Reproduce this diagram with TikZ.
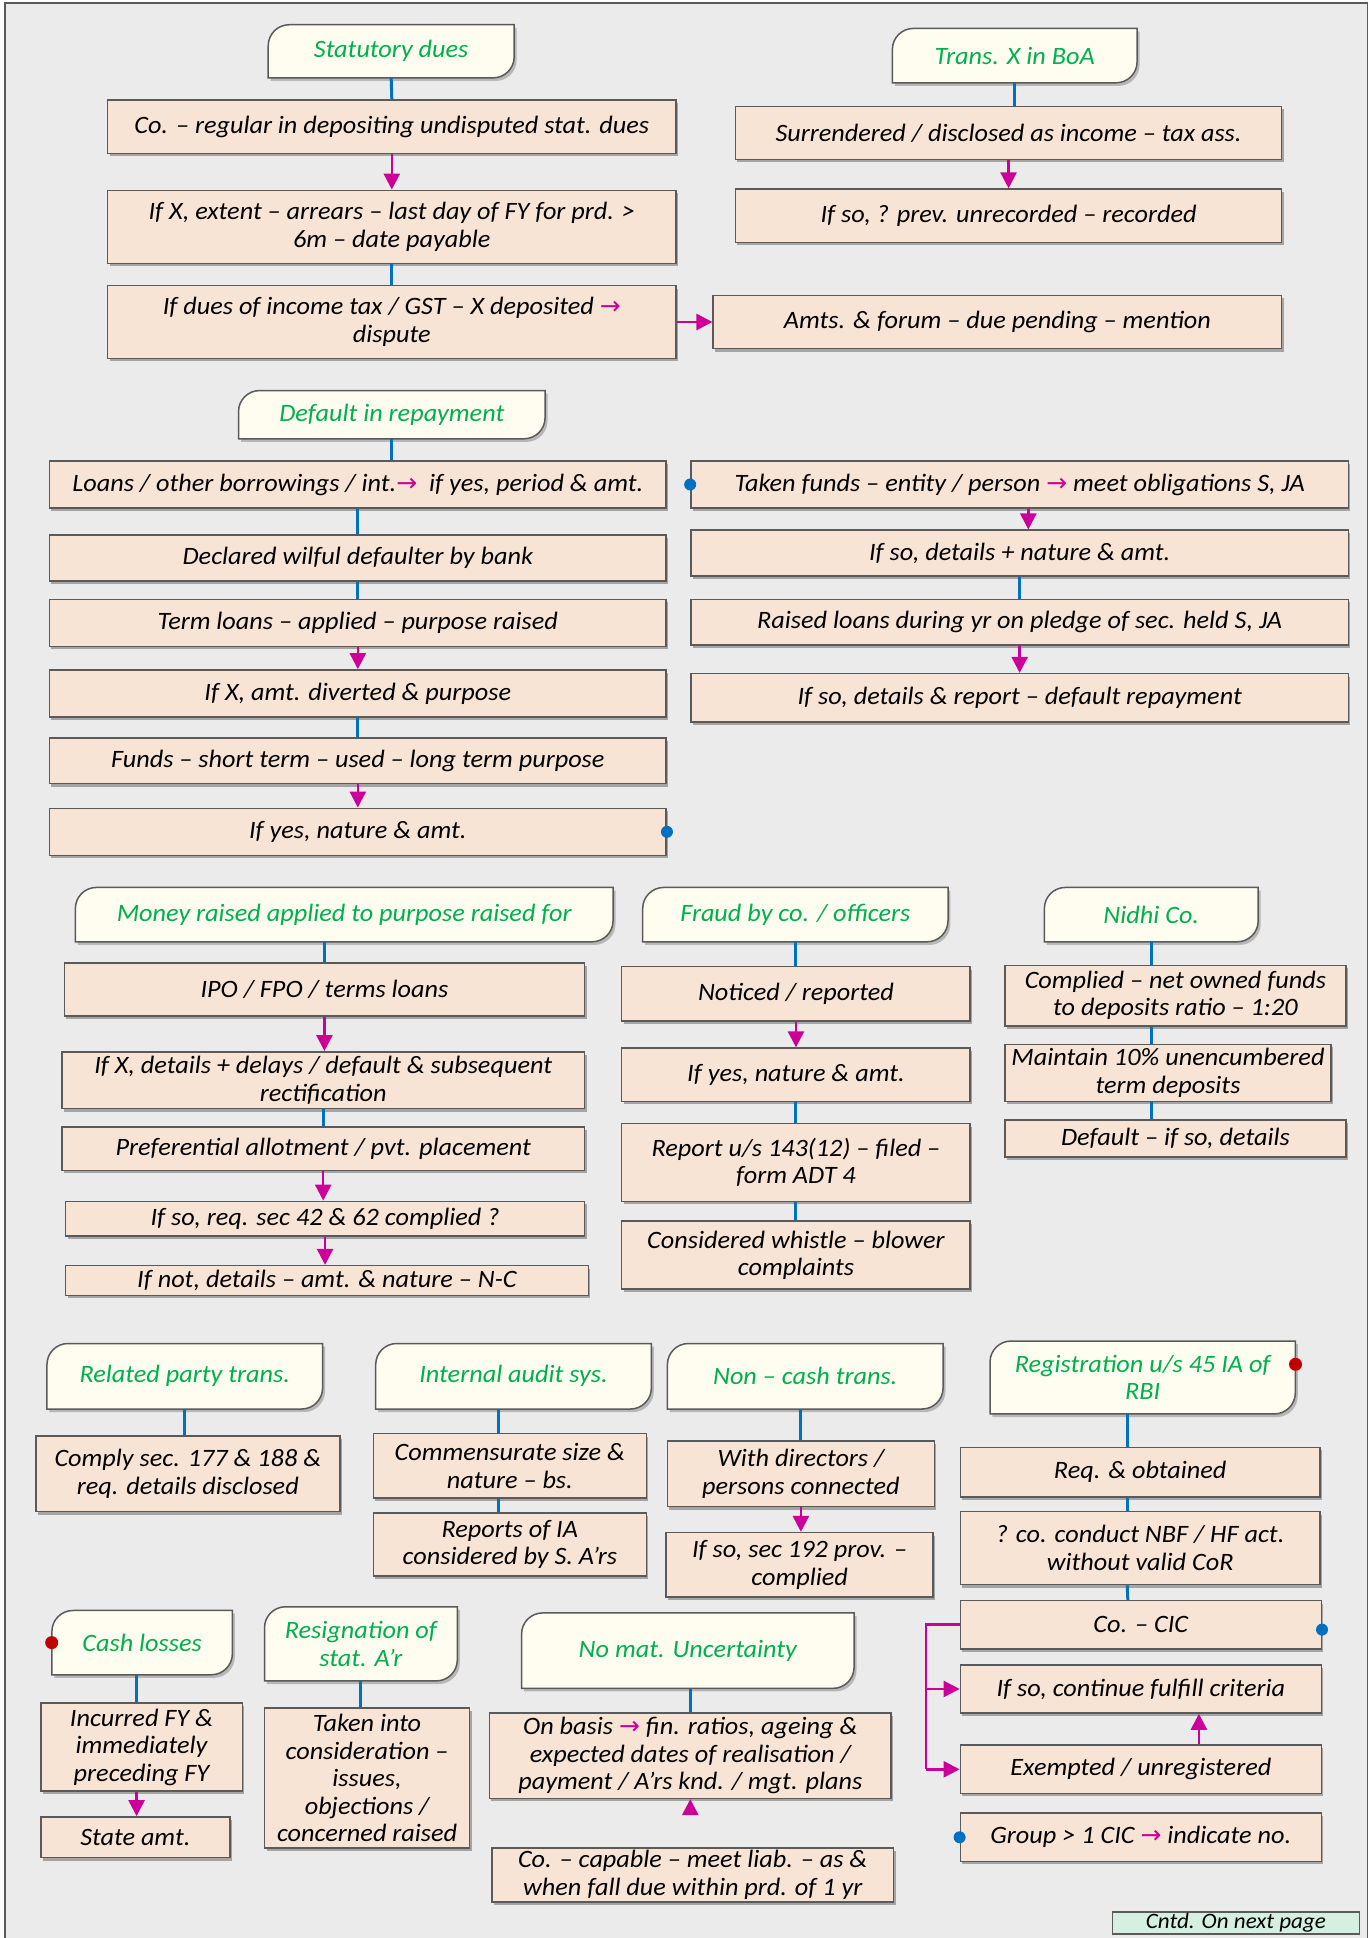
\documentclass[tikz,border=0pt]{standalone}
\usepackage{fontspec}
\setmainfont{Carlito}[FakeStretch=1.05]
\newfontfamily\arrowfont{DejaVu Sans}
\usetikzlibrary{arrows.meta,shadows,calc}
\definecolor{bgc}{HTML}{EBEBEB}
\definecolor{peach}{HTML}{F8E4D5}
\definecolor{cream}{HTML}{FFFDF0}
\definecolor{hgreen}{HTML}{00B050}
\definecolor{cblue}{HTML}{0070C0}
\definecolor{mag}{HTML}{CC0099}
\definecolor{edge}{HTML}{5A5A5A}
\definecolor{mint}{HTML}{D5F0E3}
\definecolor{rdot}{HTML}{C00000}
\newcommand\ar{{\arrowfont\upshape\color{mag}→}}
\tikzset{
 txtfont/.style={font=\itshape\fontsize{25}{27.5}\selectfont},
 boxs/.style={txtfont, draw=edge, line width=1.5pt, fill=peach, align=center, inner xsep=3pt, inner ysep=0pt,
   drop shadow={shadow xshift=2pt, shadow yshift=-3pt, opacity=.3, fill=black}},
 hdrtxt/.style={txtfont, align=center, text=hgreen, inner sep=0pt},
 hdrfill/.style={fill=cream, draw=edge, line width=1.5pt},
 hshadow/.style={fill=black, opacity=.22},
 bline/.style={draw=cblue, line width=3pt},
 mline/.style={draw=mag, line width=2.5pt},
 marrow/.style={draw=mag, line width=2.5pt, -{Triangle[length=16pt,width=16pt]}},
 bdot/.style={circle, fill=cblue, inner sep=0pt, minimum size=12pt},
 rdotst/.style={circle, fill=rdot, inner sep=0pt, minimum size=13pt},
 cntd/.style={draw=edge, line width=1.5pt, fill=mint, inner sep=0pt, font=\itshape\fontsize{22}{24}\selectfont}
}
\newcommand\bx[6]{%
 \pgfmathsetmacro\bw{(#4-#2)*1.2363}%
 \pgfmathsetmacro\bh{(#5-#3)*1.2363}%
 \node[boxs, minimum width=\bw pt, minimum height=\bh pt] (#1) at ({(#2+#4)/2},{(#3+#5)/2}) {#6};}
\newcommand\hdr[6]{%
 \fill[hshadow] (#2+2,#5+2.5) -- (#2+2,#3+2.5+17) arc[start angle=180,end angle=270,radius=17] -- (#4+2,#3+2.5) -- (#4+2,#5+2.5-17) arc[start angle=0,end angle=90,radius=17] -- cycle;
 \path[hdrfill] (#2,#5) -- (#2,#3+17) arc[start angle=180,end angle=270,radius=17] -- (#4,#3) -- (#4,#5-17) arc[start angle=0,end angle=90,radius=17] -- cycle;
 \pgfmathsetmacro\bw{(#4-#2)*1.2363}%
 \pgfmathsetmacro\bh{(#5-#3)*1.2363}%
 \node[hdrtxt, minimum width=\bw pt, minimum height=\bh pt] (#1) at ({(#2+#4)/2},{(#3+#5)/2}) {#6};}
\begin{document}
\begin{tikzpicture}[x=1.2363pt,y=-1.2363pt]
\useasboundingbox (0,0) rectangle (1109,1568);
\fill[white] (0,0) rectangle (1109,1568);
\draw[fill=bgc, draw=edge, line width=1.2pt] (4,2.5) rectangle (1106.5,1575);

% Statutory dues
\hdr{h1}{217}{20}{416}{63}{Statutory dues}
\bx{s1}{87}{81}{547}{124}{Co. – regular in depositing undisputed stat. dues}
\bx{s2}{87}{154}{547}{213}{If X, extent – arrears – last day of FY for prd. >\\6m – date payable}
\bx{s3}{87}{231}{547}{290}{If dues of income tax / GST – X deposited \ar\\dispute}
\bx{s4}{577}{239}{1037}{282}{Amts. \& forum – due pending – mention}

% Trans. X in BoA
\hdr{h2}{722}{23}{920}{67}{Trans. X in BoA}
\bx{t1}{595}{86}{1037}{129}{Surrendered / disclosed as income – tax ass.}
\bx{t2}{595}{153}{1037}{196}{If so, ? prev. unrecorded – recorded}

% Default in repayment
\hdr{h3}{193}{316}{441}{355}{Default in repayment}
\bx{d1}{40}{373}{539}{411}{Loans / other borrowings / int.\ar\ \ if yes, period \& amt.}
\bx{d2}{40}{433}{539}{470}{Declared wilful defaulter by bank}
\bx{d3}{40}{485}{539}{523}{Term loans – applied – purpose raised}
\bx{d4}{40}{542}{539}{580}{If X, amt. diverted \& purpose}
\bx{d5}{40}{597}{539}{634}{Funds – short term – used – long term purpose}
\bx{d6}{40}{654}{539}{692}{If yes, nature \& amt.}
\bx{r1}{559}{373}{1091}{411}{Taken funds – entity / person \ar\ meet obligations S, JA}
\bx{r2}{559}{429}{1091}{466}{If so, details + nature \& amt.}
\bx{r3}{559}{485}{1091}{522}{Raised loans during yr on pledge of sec. held S, JA}
\bx{r4}{559}{545}{1091}{584}{If so, details \& report – default repayment}

% Money raised
\hdr{h4}{61}{718}{496}{762}{Money raised applied to purpose raised for}
\bx{m1}{52}{779}{473}{822}{IPO / FPO / terms loans}
\bx{m2}{50}{851}{473}{897}{If X, details + delays / default \& subsequent\\rectification}
\bx{m3}{50}{912}{473}{947}{Preferential allotment / pvt. placement}
\bx{m4}{53}{972}{473}{1000}{If so, req. sec 42 \& 62 complied ?}
\bx{m5}{53}{1024}{476}{1048}{If not, details – amt. \& nature – N-C}

% Fraud
\hdr{h5}{520}{718}{767}{762}{Fraud by co. / officers}
\bx{f1}{503}{782}{785}{826}{Noticed / reported}
\bx{f2}{503}{848}{785}{891}{If yes, nature \& amt.}
\bx{f3}{503}{909}{785}{972}{Report u/s 143(12) – filed –\\form ADT 4}
\bx{f4}{503}{988}{785}{1043}{Considered whistle – blower\\complaints}

% Nidhi
\hdr{h6}{845}{718}{1018}{762}{Nidhi Co.}
\bx{n1}{813}{781}{1089}{830}{Complied – net owned funds\\to deposits ratio – 1:20}
\bx{n2}{813}{845}{1077}{891}{Maintain 10\% unencumbered\\term deposits}
\bx{n3}{813}{906}{1089}{936}{Default – if so, details}

% Related party
\hdr{h7}{38}{1087}{261}{1140}{Related party trans.}
\bx{p1}{29}{1162}{275}{1223}{Comply sec. 177 \& 188 \&\\req. details disclosed}

% Internal audit
\hdr{h8}{304}{1087}{527}{1140}{Internal audit sys.}
\bx{i1}{302}{1160}{523}{1212}{Commensurate size \&\\nature – bs.}
\bx{i2}{302}{1224}{523}{1275}{Reports of IA\\considered by S. A’rs}

% Non-cash
\hdr{h9}{540}{1087}{763}{1140}{Non – cash trans.}
\bx{c1}{540}{1166}{756}{1219}{With directors /\\persons connected}
\bx{c2}{539}{1240}{755}{1292}{If so, sec 192 prov. –\\complied}

% Registration
\hdr{h10}{801}{1085}{1048}{1144}{Registration u/s 45 IA of\\RBI}
\bx{g1}{777}{1171}{1068}{1211}{Req. \& obtained}
\bx{g2}{777}{1223}{1068}{1282}{? co. conduct NBF / HF act.\\without valid CoR}
\bx{g3}{777}{1295}{1069}{1334}{Co. – CIC}
\bx{g4}{777}{1347}{1069}{1386}{If so, continue fulfill criteria}
\bx{g5}{777}{1412}{1069}{1451}{Exempted / unregistered}
\bx{g6}{777}{1467}{1069}{1506}{Group > 1 CIC \ar\ indicate no.}

% Cash losses
\hdr{h11}{42}{1303}{188}{1355}{Cash losses}
\bx{k1}{33}{1378}{196}{1449}{Incurred FY \&\\immediately\\preceding FY}
\bx{k2}{33}{1470}{186}{1503}{State amt.}

% Resignation
\hdr{h12}{214}{1300}{370}{1360}{Resignation of\\stat. A’r}
\bx{q1}{214}{1382}{380}{1495}{Taken into\\consideration –\\issues,\\objections /\\concerned raised}

% No mat. uncertainty
\hdr{h13}{422}{1305}{691}{1366}{No mat. Uncertainty}
\bx{u1}{396}{1386}{721}{1455}{On basis \ar\ fin. ratios, ageing \&\\expected dates of realisation /\\payment / A’rs knd. / mgt. plans}
\bx{u2}{398}{1495}{723}{1539}{Co. – capable – meet liab. – as \&\\when fall due within prd. of 1 yr}

% Cntd
\node[cntd, minimum width=247pt, minimum height=22pt] (cn) at (1000,1556) {Cntd. On next page};

% connectors
\draw[bline] (h1.south) -- (s1.north);
\draw[marrow] (s1.south) -- (s2.north);
\draw[bline] (s2.south) -- (s3.north);
\draw[marrow] (s3.east) -- (s4.west);

\draw[bline] (h2.south) -- (h2.south |- t1.north);
\draw[marrow] (t1.south) -- (t2.north);

\draw[bline] (h3.south) -- (h3.south |- d1.north);
\draw[bline] (d1.south) -- (d2.north);
\draw[bline] (d2.south) -- (d3.north);
\draw[marrow] (d3.south) -- (d4.north);
\draw[bline] (d4.south) -- (d5.north);
\draw[marrow] (d5.south) -- (d6.north);
\draw[marrow] ($(r1.south)+(7,0)$) -- ($(r2.north)+(7,0)$);
\draw[bline] (r2.south) -- (r3.north);
\draw[marrow] (r3.south) -- (r4.north);

\draw[bline] (m1.north |- h4.south) -- (m1.north);
\draw[marrow] (m1.south) -- (m1.south |- m2.north);
\draw[bline] (m2.south) -- (m2.south |- m3.north);
\draw[marrow] (m3.south) -- (m3.south |- m4.north);
\draw[marrow] (m4.south) -- (m4.south |- m5.north);

\draw[bline] (h5.south) -- (h5.south |- f1.north);
\draw[marrow] (f1.south) -- (f2.north);
\draw[bline] (f2.south) -- (f3.north);
\draw[bline] (f3.south) -- (f4.north);

\draw[bline] (h6.south) -- (h6.south |- n1.north);
\draw[bline] (n1.south -| h6.south) -- (n2.north -| h6.south);
\draw[bline] (n2.south -| h6.south) -- (n3.north -| h6.south);

\draw[bline] (h7.south) -- (h7.south |- p1.north);

\draw[bline] ($(i1.north |- h8.south)+(-9.5,0)$) -- ($(i1.north)+(-9.5,0)$);
\draw[bline] ($(i1.south)+(-9.5,0)$) -- ($(i2.north)+(-9.5,0)$);

\draw[bline] (c1.north |- h9.south) -- (c1.north);
\draw[marrow] (c1.south) -- (c1.south |- c2.north);

\draw[bline] ($(g1.north |- h10.south)+(-10.5,0)$) -- ($(g1.north)+(-10.5,0)$);
\draw[bline] ($(g1.south)+(-10.5,0)$) -- ($(g2.north)+(-10.5,0)$);
\draw[bline] ($(g2.south)+(-10.5,0)$) -- ($(g3.north)+(-10.5,0)$);
\draw[mline] (g3.west) -- ++(-27,0) coordinate (gb) -- (gb |- g5.west);
\draw[marrow] (gb |- g4.west) -- (g4.west);
\draw[marrow] (gb |- g5.west) -- (g5.west);
\draw[marrow] ($(g5.north)+(47,0)$) -- ($(g4.south)+(47,0)$);

\draw[bline] ($(k1.north |- h11.south)+(-4,0)$) -- ($(k1.north)+(-4,0)$);
\draw[marrow] ($(k1.south)+(-4,0)$) -- ($(k1.south |- k2.north)+(-4,0)$);

\draw[bline] (h12.south) -- (h12.south |- q1.north);

\draw[bline] (u1.north |- h13.south) -- (u1.north);
\draw[marrow, shorten <=32pt] (u1.south |- u2.north) -- (u1.south);

% dots
\node[bdot] (dt1) at (d6.east) {};
\node[bdot] (dt2) at (r1.west) {};
\node[bdot] (dt3) at ($(g3.east)+(0,4)$) {};
\node[bdot] (dt4) at (g6.west) {};
\node[rdotst] (dt5) at ($(h10.north east)+(0,19)$) {};
\node[rdotst] (dt6) at (h11.west) {};
\end{tikzpicture}
\end{document}
